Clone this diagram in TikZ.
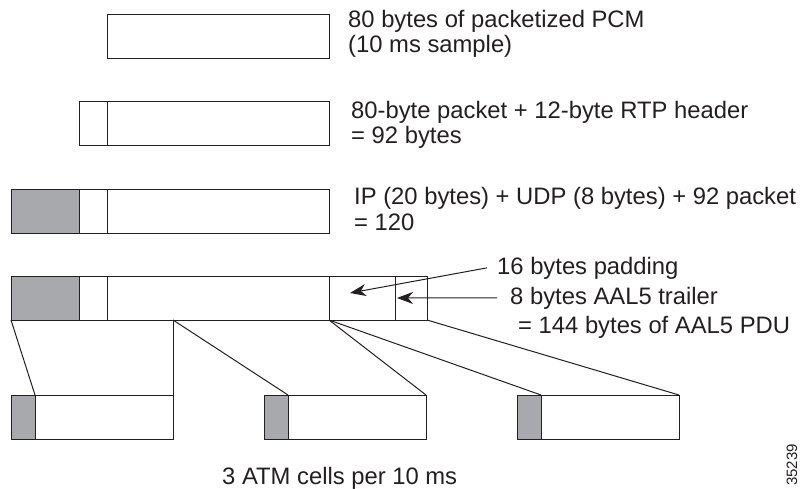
\documentclass[tikz,border=0pt]{standalone}
\usepackage{fontspec}
\setmainfont{Liberation Sans}
\usetikzlibrary{arrows.meta,positioning}

\definecolor{ccgris}{RGB}{167,169,172}
\definecolor{ccencre}{RGB}{35,31,32}

\tikzset{
  champ/.style={draw=ccencre, line width=1pt, inner sep=0pt, outer sep=0pt, minimum height=44pt, anchor=north west},
  entete/.style={champ, fill=ccgris},
  legende/.style={anchor=base west, inner sep=0pt, text=ccencre, align=left, font=\fontsize{23.8}{25.8}\selectfont},
  trait/.style={draw=ccencre, line width=1pt},
  fleche/.style={trait, -{Stealth[length=16pt, width=12pt, inset=5pt]}},
}

\begin{document}
\begin{tikzpicture}[x=1pt, y=-1pt]

  % Bounding box of the scheme
  \useasboundingbox (0,0) rectangle (805,489);

  %%%%%%%%%%%%%%%%%%%%%%%%%%%%%%%%% Paquets %%%%%%%%%%%%%%%%%%%%%%%%%%%%%%%%%%%%

  % PCM seul
  \draw (107,15) node[champ, minimum width=222pt] (pcm1) {} ;

  % PCM + RTP
  \draw (79,102) node[champ, minimum width=28pt] (rtp2) {} ;
  \draw (107,102) node[champ, minimum width=222pt] (pcm2) {} ;

  % IP/UDP + RTP + PCM
  \draw (11,189) node[entete, minimum width=68pt] (ip3) {} ;
  \draw (79,189) node[champ, minimum width=28pt] (rtp3) {} ;
  \draw (107,189) node[champ, minimum width=222pt] (pcm3) {} ;

  % PDU AAL5
  \draw (11,276) node[entete, minimum width=68pt] (ip4) {} ;
  \draw (79,276) node[champ, minimum width=28pt] (rtp4) {} ;
  \draw (107,276) node[champ, minimum width=222pt] (pcm4) {} ;
  \draw (329,276) node[champ, minimum width=66pt] (pad4) {} ;
  \draw (395,276) node[champ, minimum width=32pt] (trl4) {} ;

  %%%%%%%%%%%%%%%%%%%%%%%%%%%%%%%%% Cellules ATM %%%%%%%%%%%%%%%%%%%%%%%%%%%%%%%%%%%%

  \draw (11,395) node[champ, minimum width=162pt] (cel1) {} ;
  \draw (11,395) node[entete, minimum width=24pt] (tete1) {} ;
  \draw (264,395) node[champ, minimum width=162pt] (cel2) {} ;
  \draw (264,395) node[entete, minimum width=24pt] (tete2) {} ;
  \draw (517,395) node[champ, minimum width=162pt] (cel3) {} ;
  \draw (517,395) node[entete, minimum width=24pt] (tete3) {} ;

  % Decoupage du PDU
  \coordinate (coupe1) at (173,320) ;
  \draw[trait] (ip4.south west) -- (tete1.north east) ;
  \draw[trait] (coupe1) -- (cel1.north east) ;
  \draw[trait] (coupe1) -- (tete2.north east) ;
  \draw[trait] (pad4.south west) -- (cel2.north east) ;
  \draw[trait] (pad4.south west) -- (tete3.north east) ;
  \draw[trait] (trl4.south east) -- (cel3.north east) ;

  %%%%%%%%%%%%%%%%%%%%%%%%%%%%%%%%% Legendes %%%%%%%%%%%%%%%%%%%%%%%%%%%%%%%%%%%%

  % (base = derniere ligne)
  \draw (348,53) node[legende] (lbl1) {80 bytes of packetized PCM\\(10 ms sample)} ;
  \draw (351,144) node[legende] (lbl2) {80-byte packet + 12-byte RTP header\\= 92 bytes} ;
  \draw (354,230) node[legende] (lbl3) {IP (20 bytes) + UDP (8 bytes) + 92 packet\\= 120} ;

  \draw (497,274) node[legende] (lblpad) {16 bytes padding} ;
  \draw (510,304) node[legende] (lbltrl) {8 bytes AAL5 trailer} ;
  \draw (518,333) node[legende] (lblpdu) {= 144 bytes of AAL5 PDU} ;

  \draw[fleche] ([xshift=-10pt]lblpad.west) -- ([shift={(-12,-5)}]pad4.center) ;
  \draw[fleche] ([xshift=-13pt]lbltrl.west) -- ([xshift=2pt]trl4.west) ;

  \draw (222,484) node[legende] (lblatm) {3 ATM cells per 10 ms} ;
  \draw (792,465) node[rotate=90, inner sep=0pt, text=ccencre, font=\fontsize{15}{18}\selectfont] (numfig) {35239} ;

\end{tikzpicture}
\end{document}
